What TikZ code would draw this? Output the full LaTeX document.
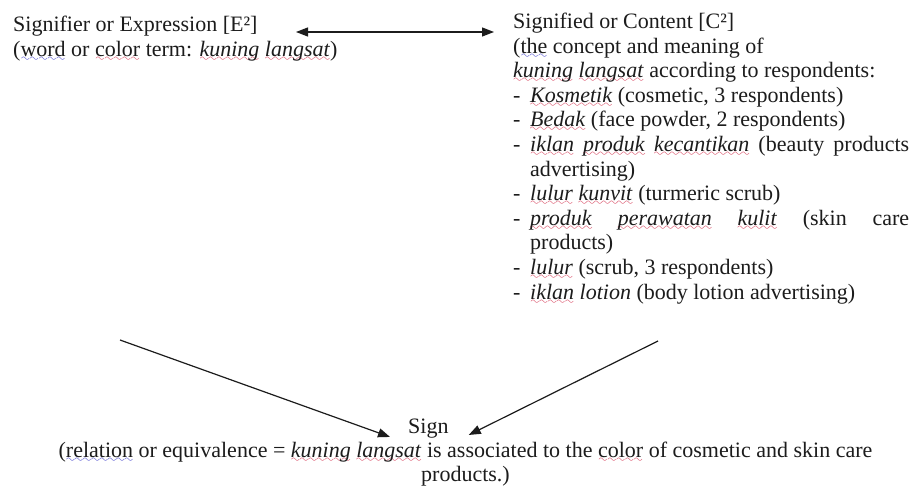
\documentclass[tikz,border=0pt]{standalone}
\usepackage{fontspec}
\setmainfont{Liberation Serif}
\usetikzlibrary{arrows.meta}

\definecolor{ink}{RGB}{28,28,28}
\definecolor{spellred}{RGB}{210,40,70}
\definecolor{gramblue}{RGB}{50,50,200}

% wavy proofing underline drawn below a word
\font\wavefont=lasy10 scaled 1150
\newcommand\wv[2]{\setbox0=\hbox{#2}\rlap{\lower5pt\hbox to \wd0{\color{#1}\xleaders\hbox{\wavefont\char58}\hfil}}\box0\relax}
\newcommand\spw[1]{\wv{spellred}{\textit{#1}}}
\newcommand\itm[1]{\makebox[17pt][l]{-}#1}

\begin{document}
\begin{tikzpicture}[x=1pt,y=-1pt,
  txt/.style={anchor=base west, inner sep=0pt, font=\fontsize{22}{24.6}\selectfont, text=ink},
  ctxt/.style={txt, anchor=base},
  arr/.style={draw=ink, line width=1.2pt, -{Triangle[length=12pt,width=9pt]}},
  biarr/.style={draw=ink, line width=1.2pt, {Triangle[length=12pt,width=9pt]}-{Triangle[length=12pt,width=9pt]}}]
\useasboundingbox[fill=white] (0,0) rectangle (918,486);

% signifier
\node[txt] (sig1) at (13,32) {Signifier or Expression [E²]};
\node[txt] (sig2) at (13,56.5) {(\wv{gramblue}{word} or \wv{spellred}{color} term: \spw{kuning} \spw{langsat})};

% signified
\node[txt] (con1)  at (513,28.5)  {Signified or Content [C²]};
\node[txt] (con2)  at (513,53.1)  {(\wv{gramblue}{the} concept and meaning of};
\node[txt] (con3)  at (513,77.7)  {\spw{kuning} \spw{langsat} according to respondents:};
\node[txt] (con4)  at (513,102.3) {\itm{\spw{Kosmetik} (cosmetic, 3 respondents)}};
\node[txt] (con5)  at (513,126.9) {\itm{\spw{Bedak} (face powder, 2 respondents)}};
\node[txt] (con6)  at (513,151.5) {\itm{\makebox[379pt][s]{\spw{iklan} \spw{produk} \spw{kecantikan} (beauty products}}};
\node[txt] (con7)  at (530,176.1) {advertising)};
\node[txt] (con8)  at (513,200.7) {\itm{\spw{lulur} \spw{kunvit} (turmeric scrub)}};
\node[txt] (con9)  at (513,225.3) {\itm{\makebox[379pt][s]{\spw{produk} \spw{perawatan} \spw{kulit} (skin care}}};
\node[txt] (con10) at (530,249.9) {products)};
\node[txt] (con11) at (513,274.5) {\itm{\spw{lulur} (scrub, 3 respondents)}};
\node[txt] (con12) at (513,299.1) {\itm{\spw{iklan} \textit{lotion} (body lotion advertising)}};

% sign
\node[txt] (sign) at (408,433) {Sign};
\node[ctxt] (rel1) at (465.5,457.5) {(\wv{gramblue}{relation} or equivalence = \spw{kuning} \spw{langsat} is associated to the \wv{spellred}{color} of cosmetic and skin care};
\node[ctxt] (rel2) at (465.5,481) {products.)};

% connectors
\coordinate (ea) at (296,32);
\coordinate (eb) at (494,32);
\coordinate (lsrc) at (120,340);
\coordinate (rsrc) at (658,341);
\draw[biarr] (ea) -- (eb);
\draw[arr] (lsrc) -- ([xshift=-18pt,yshift=1pt]sign.south west);
\draw[arr] (rsrc) -- ([xshift=20pt,yshift=3pt]sign.south east);
\end{tikzpicture}
\end{document}
